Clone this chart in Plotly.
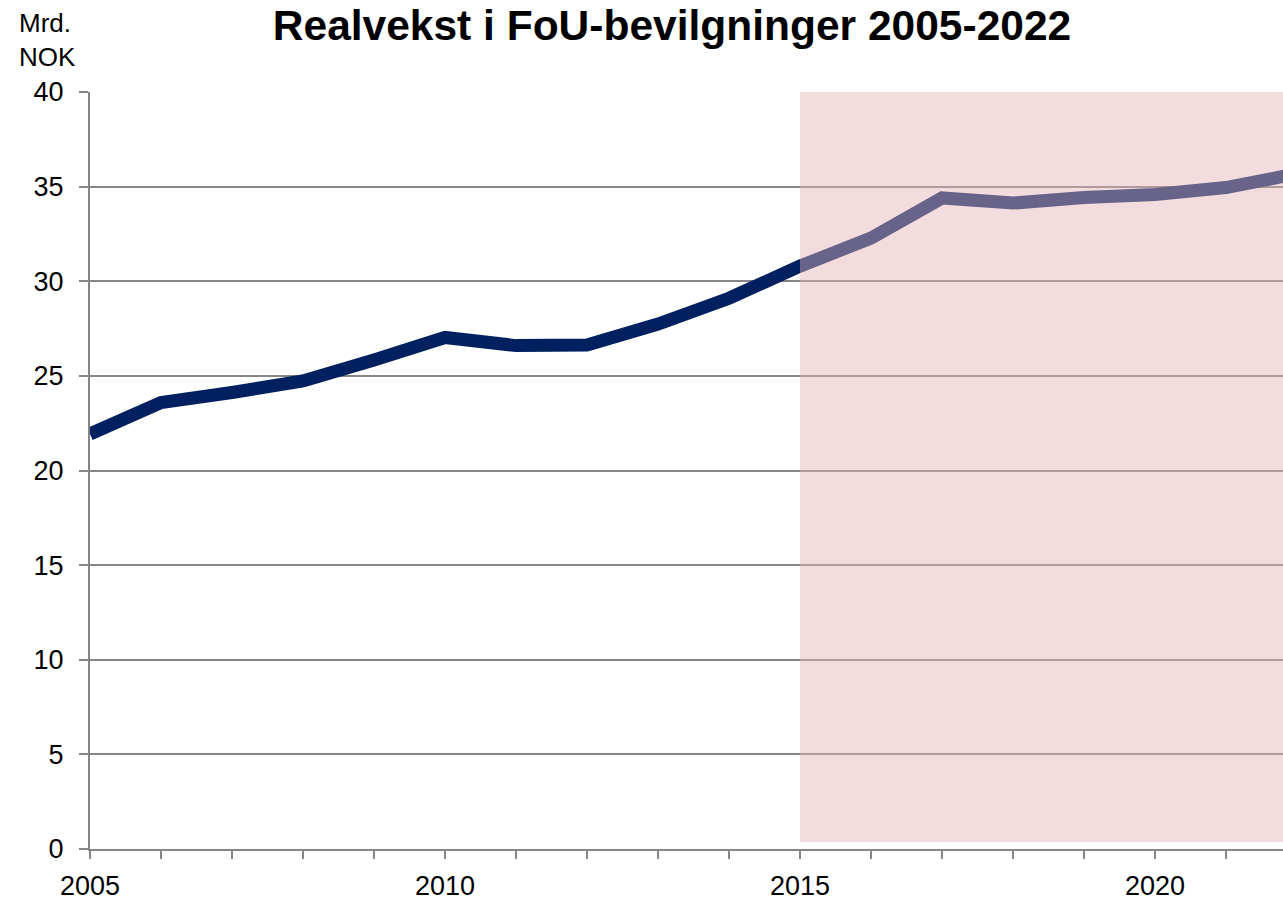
import plotly.graph_objects as go

years = list(range(2005, 2023))
values = [21.93, 23.59, 24.12, 24.73, 25.84, 27.03, 26.6, 26.63, 27.74, 29.1,
          30.8, 32.28, 34.4, 34.13, 34.42, 34.58, 34.95, 35.68]

title_text = "Realvekst i FoU-bevilgninger 2005-2022"
unit_text = "Mrd.<br>NOK"
shade_start = 2015
shade_end = 2023
shade_bottom = 0.37
shade_top = 40

FONT = "Liberation Sans, Arial, sans-serif"

FIG_W, FIG_H = 1283, 900
L, T = 90, 92
B = FIG_H - 849
R = 0
plot_w = FIG_W - L - R

fig = go.Figure()
fig.add_trace(go.Scatter(
    x=years, y=values, mode="lines",
    line=dict(color="#002060", width=13),
    showlegend=False, hoverinfo="skip",
))

fig.add_shape(type="rect", xref="x", yref="y",
              x0=shade_start, x1=shade_end, y0=shade_bottom, y1=shade_top,
              fillcolor="rgba(227,179,183,0.46)", line=dict(width=0),
              layer="above")

fig.update_layout(
    width=FIG_W, height=FIG_H,
    margin=dict(l=L, r=R, t=T, b=B, autoexpand=False),
    paper_bgcolor="white", plot_bgcolor="white",
    font=dict(family=FONT, size=27, color="black"),
    title=dict(text="<b>" + title_text + "</b>", x=672 / FIG_W, xanchor="center",
               y=1 - 25 / FIG_H, yanchor="middle",
               font=dict(family=FONT, size=42.5, color="black")),
    annotations=[dict(text=unit_text, xref="paper", yref="paper",
                      x=-43 / plot_w, y=1 + 52 / 757, xanchor="center", yanchor="middle",
                      showarrow=False, align="left",
                      font=dict(family=FONT, size=26, color="black"))],
)

fig.update_xaxes(
    range=[2005, 2005 + plot_w / 71.0],
    tick0=2005, dtick=5, ticks="outside", ticklen=8, tickwidth=2, tickcolor="#868686",
    minor=dict(dtick=1, tick0=2005, ticks="outside", ticklen=8, tickwidth=2,
               tickcolor="#868686", showgrid=False),
    showline=True, linecolor="#868686", linewidth=2,
    showgrid=False, zeroline=False, automargin=False,
    tickfont=dict(size=27), ticklabelstandoff=4,
)
fig.update_yaxes(
    range=[0, 40], tick0=0, dtick=5,
    ticks="outside", ticklen=9, tickwidth=2, tickcolor="#868686",
    showline=True, linecolor="#868686", linewidth=2,
    showgrid=True, gridcolor="#868686", gridwidth=2,
    zeroline=False, automargin=False, tickfont=dict(size=27), ticklabelstandoff=10,
)

fig.write_html(
    "out.html",
    config={"displayModeBar": False},
    post_script="document.body.style.margin='0';document.body.style.overflow='hidden';",
)
